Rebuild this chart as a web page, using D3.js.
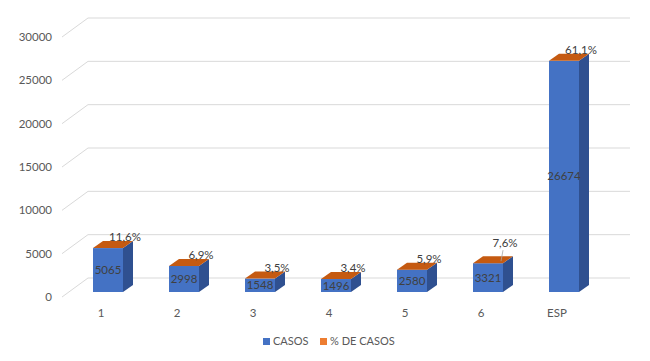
<!DOCTYPE html>
<html><head><meta charset="utf-8">
<script src="https://cdnjs.cloudflare.com/ajax/libs/d3/7.8.5/d3.min.js"></script>
<style>body{margin:0;background:#fff}svg{display:block}text{font-family:Lato,"Liberation Sans",sans-serif}</style>
</head><body><svg id="c" width="650" height="361"></svg>
<script>
const categories = ["1","2","3","4","5","6","ESP"];
const casos = [5065, 2998, 1548, 1496, 2580, 3321, 26674];
const pctCasos = [11.6, 6.9, 3.5, 3.4, 5.9, 7.6, 61.1];
const yTicks = [0, 5000, 10000, 15000, 20000, 25000, 30000];
const seriesNames = ["CASOS", "% DE CASOS"];

const svg = d3.select("#c");
const depthX = 26, depthY = -19;     // full floor depth
const barDX = 10, barDY = -7;        // bar depth
const frontOffX = 7, frontOffY = -5; // bar front plane offset from floor front

const yFront = d3.scaleLinear().domain([0, 30000]).range([297, 37]);
const x = d3.scaleBand().domain(categories).range([63, 63 + 76 * 7]).paddingInner(46/76).paddingOuter(23/76);

// gridlines
const g = svg.append("g");
yTicks.forEach(t => {
  const y0 = yFront(t);
  g.append("line").attr("x1", 62).attr("y1", y0).attr("x2", 62 + depthX).attr("y2", y0 + depthY)
    .attr("stroke", "#d9d9d9").attr("stroke-width", 1);
  g.append("line").attr("x1", 62 + depthX).attr("y1", y0 + depthY).attr("x2", 630).attr("y2", y0 + depthY)
    .attr("stroke", "#d9d9d9").attr("stroke-width", 1);
  g.append("text").attr("x", 52).attr("y", y0 + 4).attr("text-anchor", "end")
    .attr("font-size", 11.5).attr("fill", "#595959").text(t);
});

// category labels
categories.forEach(c => {
  svg.append("text").attr("x", x(c) + x.bandwidth() / 2).attr("y", 317)
    .attr("text-anchor", "middle").attr("font-size", 11.5).attr("fill", "#595959").text(c);
});

// bars
const bw = x.bandwidth();
categories.forEach((c, i) => {
  const x0 = x(c) + frontOffX;
  const yb = yFront(0) + frontOffY;
  const h = yFront(0) - yFront(casos[i]);
  const hp = yFront(0) - yFront(casos[i] + pctCasos[i] / 100);
  const yt = yb - h;
  const ytp = yb - hp;
  const bg = svg.append("g");
  // side
  bg.append("path").attr("d", `M${x0 + bw},${yb} L${x0 + bw + barDX},${yb + barDY} L${x0 + bw + barDX},${ytp + barDY} L${x0 + bw},${ytp} Z`)
    .attr("fill", "#2f5090");
  // front
  bg.append("rect").attr("x", x0).attr("y", yt).attr("width", bw).attr("height", h).attr("fill", "#4472c4");
  // orange stacked segment (thin)
  bg.append("rect").attr("x", x0).attr("y", ytp).attr("width", bw).attr("height", Math.max(0, yt - ytp)).attr("fill", "#ed7d31");
  // top
  bg.append("path").attr("d", `M${x0},${ytp} L${x0 + barDX},${ytp + barDY} L${x0 + bw + barDX},${ytp + barDY} L${x0 + bw},${ytp} Z`)
    .attr("fill", "#c55a11");
  // value label
  bg.append("text").attr("x", x0 + bw / 2).attr("y", yb - h / 2 + 4).attr("text-anchor", "middle")
    .attr("font-size", 11.5).attr("fill", "#404040").text(casos[i]);
  // pct label
  const lift = i === 5 ? 20 : 11;
  bg.append("text").attr("x", x0 + bw / 2 + 17).attr("y", ytp - lift + 4).attr("text-anchor", "middle")
    .attr("font-size", 11.5).attr("fill", "#404040").text(String(pctCasos[i]).replace(".", ",") + "%");
  if (i === 5) {
    bg.append("line").attr("x1", x0 + bw / 2 + 15).attr("y1", ytp - 13).attr("x2", x0 + bw / 2 + 13).attr("y2", ytp - 2)
      .attr("stroke", "#a6a6a6").attr("stroke-width", 0.8);
  }
});

// legend
const leg = svg.append("g");
const legColors = ["#4472c4", "#ed7d31"];
const legX = [263, 320];
seriesNames.forEach((n, i) => {
  leg.append("rect").attr("x", legX[i]).attr("y", 338).attr("width", 7).attr("height", 7).attr("fill", legColors[i]);
  leg.append("text").attr("x", legX[i] + 10).attr("y", 345).attr("font-size", 11).attr("fill", "#595959").text(n);
});
</script></body></html>
